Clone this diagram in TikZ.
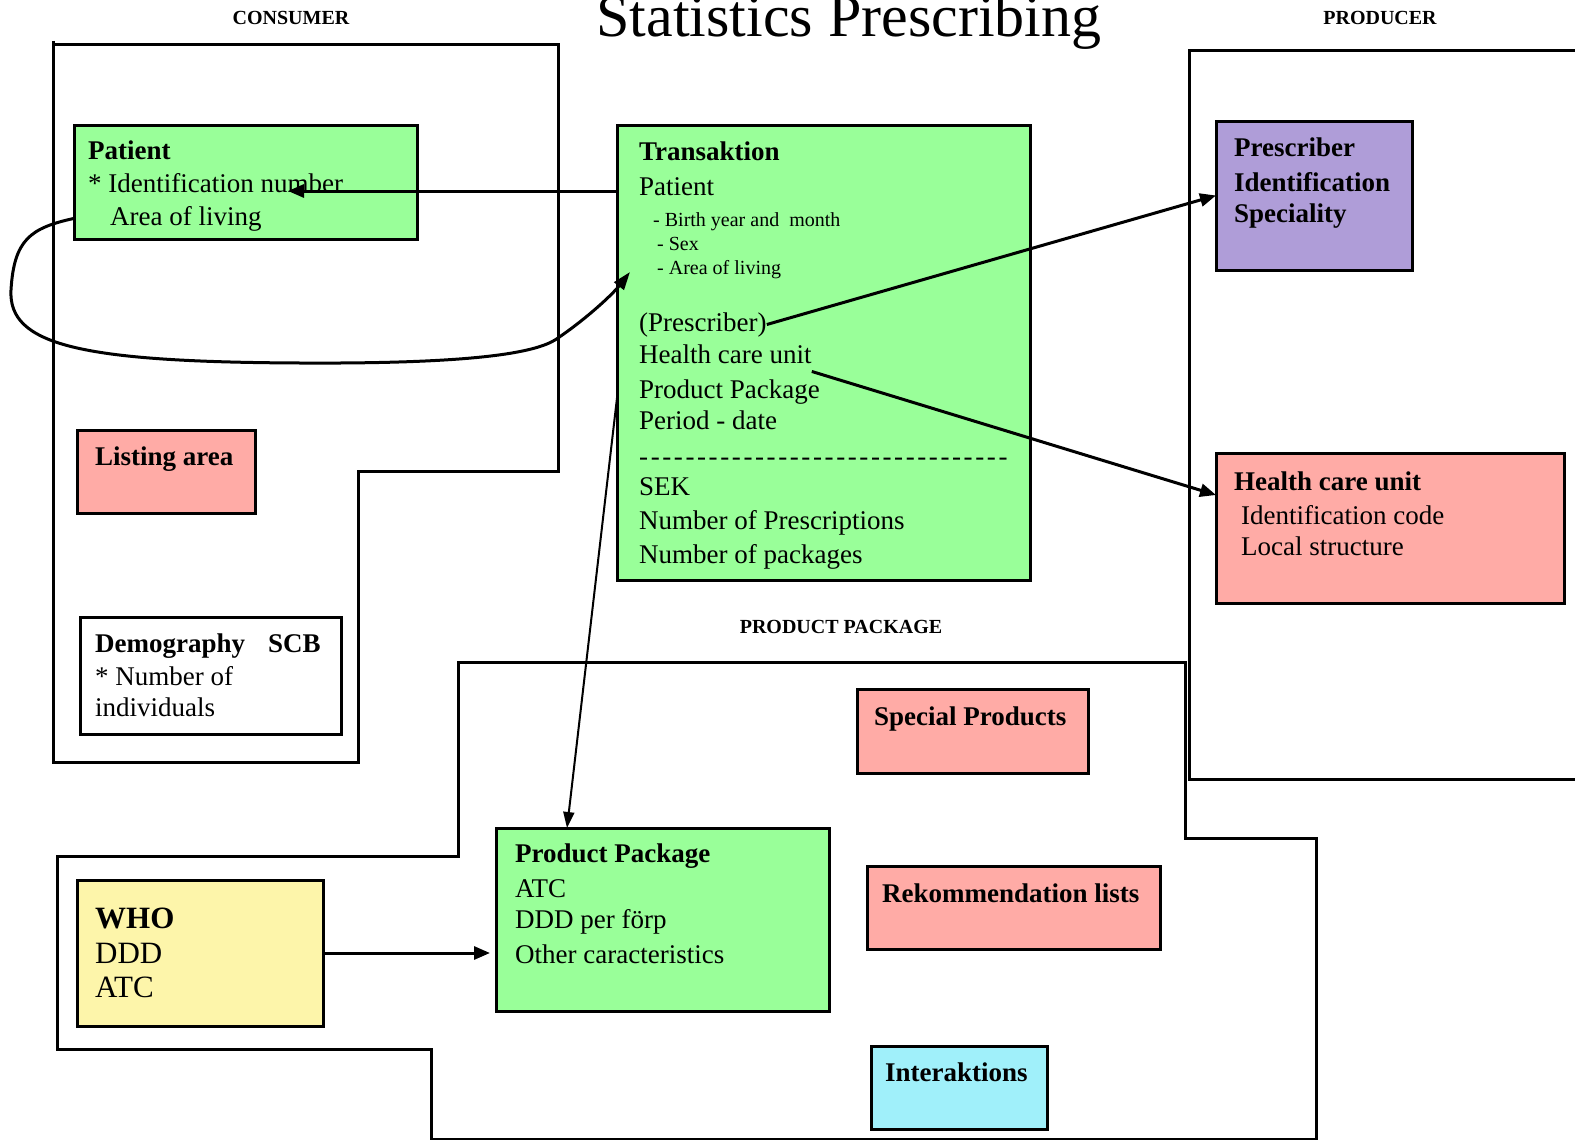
\documentclass[tikz,border=0pt]{standalone}
\usepackage{fontspec}
\setmainfont{Liberation Serif}
\usetikzlibrary{arrows.meta}
\definecolor{cgreen}{RGB}{153,255,153}
\definecolor{csalmon}{RGB}{255,171,166}
\definecolor{cpurple}{RGB}{175,157,216}
\definecolor{ccyan}{RGB}{160,240,250}
\definecolor{cyellow}{RGB}{253,245,170}
\newcommand\mydsh{\char"2D\kern2.6pt}
\newcommand\mydshfour{\mydsh\mydsh\mydsh\mydsh}
\begin{document}
\begin{tikzpicture}[x=1pt,y=-1pt,
  box/.style={draw, line width=3pt, rectangle, inner sep=0pt, outer sep=0pt},
  outline/.style={draw, line width=3pt, line join=miter},
  tx/.style={anchor=base west, inner sep=0pt, font=\fontsize{27}{30}\selectfont},
  bx/.style={anchor=base west, inner sep=0pt, font=\bfseries\fontsize{27}{30}\selectfont},
  wx/.style={anchor=base west, inner sep=0pt, font=\fontsize{31}{34}\selectfont},
  sm/.style={anchor=base west, inner sep=0pt, font=\fontsize{20}{22}\selectfont},
  lab/.style={anchor=base, inner sep=0pt, font=\bfseries\fontsize{20}{22}\selectfont},
  arr/.style={line width=3pt, -{Triangle[length=16pt,width=13pt]}},
  arrthin/.style={line width=2pt, -{Triangle[length=16pt,width=11pt]}},
]
\useasboundingbox (0,0) rectangle (1575,1140);
\fill[white] (0,0) rectangle (1575,1140);

% title and region labels
\node[anchor=base, inner sep=0pt, font=\fontsize{60}{63}\selectfont] (title) at (849,37) {Statistics Prescribing};
\node[lab] (lcons) at (291,25) {CONSUMER};
\node[lab] (lprod) at (1380,25) {PRODUCER};
\node[lab] (lpp) at (841,633) {PRODUCT PACKAGE};

% region outlines
\draw[outline] (53,41) -- (53,762) -- (358,762) -- (358,471) -- (558,471) -- (558,45) -- (51.5,45);
\draw[outline] (1590,51) -- (1189,51) -- (1189,779) -- (1590,779);
\draw[outline] (458,662) -- (1185,662) -- (1185,838) -- (1316,838) -- (1316,1139) -- (431,1139) -- (431,1049) -- (57,1049) -- (57,856) -- (458,856) -- cycle;

% boxes
\node[box, fill=cgreen, minimum width=343pt, minimum height=114pt] (patient) at (245.5,182) {};
\node[box, fill=cgreen, minimum width=413pt, minimum height=455pt] (trans) at (823.5,352.5) {};
\node[box, fill=csalmon, minimum width=178pt, minimum height=83pt] (listing) at (166,471.5) {};
\node[box, fill=white, minimum width=261pt, minimum height=117pt] (demo) at (210.5,675.5) {};
\node[box, fill=cpurple, minimum width=196pt, minimum height=149pt] (presbox) at (1314,195.5) {};
\node[box, fill=csalmon, minimum width=348pt, minimum height=150pt] (hcubox) at (1390,528) {};
\node[box, fill=csalmon, minimum width=231pt, minimum height=84pt] (special) at (972.5,731) {};
\node[box, fill=csalmon, minimum width=293pt, minimum height=83pt] (rekom) at (1013.5,907.5) {};
\node[box, fill=ccyan, minimum width=176pt, minimum height=83pt] (inter) at (959,1087.5) {};
\node[box, fill=cgreen, minimum width=333pt, minimum height=183pt] (ppbox) at (662.5,919.5) {};
\node[box, fill=cyellow, minimum width=246pt, minimum height=146pt] (whobox) at (200,953) {};

% patient texts
\node[bx] (ptitle) at (88,159) {Patient};
\node[tx] (pid) at (88,192) {* Identification number};
\node[tx] (parea) at (110,225) {Area of living};

% transaktion texts
\node[bx] (ttitle) at (639,160) {Transaktion};
\node[tx] (tpat) at (639,195) {Patient};
\node[sm] (tbirth) at (653,226) {- Birth year and\ \ month};
\node[sm] (tsex) at (657,250) {- Sex};
\node[sm] (tarea) at (657,274) {- Area of living};
\node[tx] (tpresc) at (639,331) {(Prescriber)};
\node[tx] (thcu) at (639,363) {Health care unit};
\node[tx] (tpp) at (639,398) {Product Package};
\node[tx] (tper) at (639,429) {Period - date};
\node[tx] (tdash) at (639,465) {\mydshfour\mydshfour\mydshfour\mydshfour\mydshfour\mydshfour\mydshfour\mydshfour};
\node[tx] (tsek) at (639,495) {SEK};
\node[tx] (tnpres) at (639,529) {Number of Prescriptions};
\node[tx] (tnpack) at (639,563) {Number of packages};

% listing area, demography
\node[bx] (ltitle) at (95,465) {Listing area};
\node[bx] (dtitle) at (95,652) {Demography};
\node[bx] (dscb) at (268,652) {SCB};
\node[tx] (dnum) at (95,685) {* Number of};
\node[tx] (dind) at (95,716) {individuals};

% producer boxes
\node[bx] (prt1) at (1234,156) {Prescriber};
\node[bx] (prt2) at (1234,191) {Identification};
\node[bx] (prt3) at (1234,222) {Speciality};
\node[bx] (ht1) at (1234,490) {Health care unit};
\node[tx] (ht2) at (1241,524) {Identification code};
\node[tx] (ht3) at (1241,555) {Local structure};

% product package region
\node[bx] (stitle) at (874,725) {Special Products};
\node[bx] (rtitle) at (882,902) {Rekommendation lists};
\node[bx] (ititle) at (885,1081) {Interaktions};
\node[bx] (pptitle) at (515,862) {Product Package};
\node[tx] (ppatc) at (515,897) {ATC};
\node[tx] (ppddd) at (515,928) {DDD per förp};
\node[tx] (ppoth) at (515,963) {Other caracteristics};
\node[wx, font=\bfseries\fontsize{31}{34}\selectfont] (wtitle) at (95,928) {WHO};
\node[wx] (wddd) at (95,963) {DDD};
\node[wx] (watc) at (95,997) {ATC};

% connectors
\coordinate (ptip) at (288,191);
\draw[arr] (trans.west |- ptip) -- (ptip);
\path (trans.west |- tarea.base) ++(13,-2) coordinate (ctip);
\draw[line width=3pt, -{Triangle[length=18pt,width=12pt]}] (patient.west |- parea.center)
  .. controls (30,228) and (14,240) .. (11,290)
  .. controls (8,345) and (80,362) .. (300,363)
  .. controls (480,364) and (535,352) .. (555,340)
  .. controls (585,320) and (612,295) .. (ctip);
\draw[arr] (tpresc.east) -- (presbox.west);
\draw[arr] ([yshift=-8pt]thcu.south east) -- ([yshift=33pt]hcubox.west);
\draw[arrthin] (trans.west |- tpp.base) -- ([xshift=71pt]ppbox.north west);
\draw[arr, shorten >=6pt] (whobox.east) -- (ppbox.west |- whobox.east);
\end{tikzpicture}
\end{document}
